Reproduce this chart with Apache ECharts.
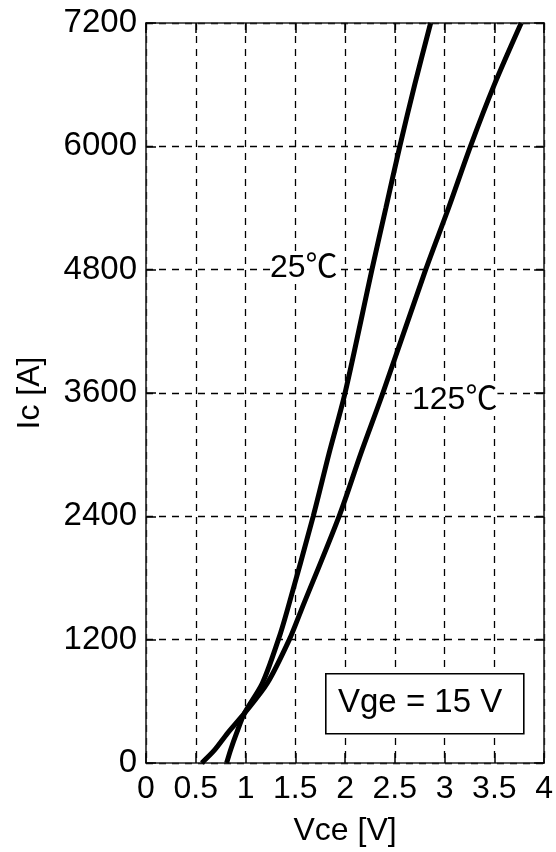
<!DOCTYPE html>
<html>
<head>
<meta charset="utf-8">
<script src="https://cdn.jsdelivr.net/npm/echarts@6/dist/echarts.min.js"></script>
<style>
html,body{margin:0;padding:0;background:#fff;}
#c{width:556px;height:852px;}
</style>
</head>
<body>
<div id="c"></div>
<script>
// Data
var xTicks = [0, 0.5, 1, 1.5, 2, 2.5, 3, 3.5, 4];
var yTicks = [0, 1200, 2400, 3600, 4800, 6000, 7200];
var vce25 = [0.81, 0.85, 0.91, 0.99, 1.17, 1.33, 1.42, 1.68, 1.84, 2.00, 2.27, 2.41, 2.55, 2.70, 2.86];
var ic25  = [0, 127, 290, 485, 778, 1200, 1488, 2400, 3015, 3600, 4800, 5400, 6000, 6600, 7200];
var vce125 = [0.56, 0.69, 0.82, 0.99, 1.22, 1.44, 1.56, 1.94, 2.16, 2.38, 2.81, 3.04, 3.26, 3.50, 3.77];
var ic125  = [0, 127, 290, 485, 778, 1200, 1488, 2400, 3015, 3600, 4800, 5400, 6000, 6600, 7200];
var labels = ['25℃', '125℃'];
var noteText = 'Vge = 15 V';

function pairs(xs, ys){ return xs.map(function(x,i){ return [x, ys[i]]; }); }

var font = "'Liberation Sans', Arial, 'Noto Sans CJK SC', sans-serif";
var chart = echarts.init(document.getElementById('c'));
var grid = {left:146, right:11, top:23, bottom:89};
var dash = {color:'#000', width:1.3, type:[7,6]};
function xAxis(show){
  return {type:'value', min:0, max:4, interval:0.5, position: show ? 'bottom':'top',
    name: show ? 'Vce [V]' : '', nameLocation:'middle', nameGap:52,
    nameTextStyle:{color:'#000', fontSize:32, fontFamily:font},
    axisLine:{show:true, onZero:false, lineStyle:{color:'#222', width:1.6}},
    axisTick:{show:true, inside:true, length:10, lineStyle:{color:'#000', width:1.5}},
    axisLabel:{show:show, color:'#000', fontSize:32, fontFamily:font, margin:10,
      formatter:function(v){ return String(v); }},
    splitLine:{show:show, lineStyle:dash}};
}
function yAxis(show){
  return {type:'value', min:0, max:7200, interval:1200, position: show ? 'left':'right',
    name: show ? 'Ic [A]' : '', nameLocation:'middle', nameGap:100, nameRotate:90,
    nameTextStyle:{color:'#000', fontSize:32, fontFamily:font},
    axisLine:{show:true, onZero:false, lineStyle:{color:'#222', width:1.6}},
    axisTick:{show:true, inside:true, length:10, lineStyle:{color:'#000', width:1.5}},
    axisLabel:{show:show, color:'#000', fontSize:33, fontFamily:font, margin:9,
      formatter:function(v){ return String(v); }},
    splitLine:{show:show, lineStyle:dash}};
}
chart.setOption({
  animation:false,
  backgroundColor:'#fff',
  grid:grid,
  xAxis:[xAxis(true), xAxis(false)],
  yAxis:[yAxis(true), yAxis(false)],
  series:[
    {type:'line', data:pairs(vce25, ic25), smooth:0.3, showSymbol:false, clip:true,
      lineStyle:{color:'#000', width:5}, z:5},
    {type:'line', data:pairs(vce125, ic125), smooth:0.3, showSymbol:false, clip:true,
      lineStyle:{color:'#000', width:5}, z:5}
  ],
  graphic:[
    {type:'text', left:270, top:252, z:10,
      style:{text:labels[0], fontSize:32, fontFamily:font, fill:'#000', backgroundColor:'#fff'}},
    {type:'text', left:412, top:384, z:10,
      style:{text:labels[1], fontSize:32, fontFamily:font, fill:'#000', backgroundColor:'#fff'}},
    {type:'rect', left:325, top:673, z:10,
      shape:{width:198, height:60}, style:{fill:'#fff', stroke:'#000', lineWidth:1.6}},
    {type:'text', left:338, top:686, z:11,
      style:{text:noteText, fontSize:33, fontFamily:font, fill:'#000'}}
  ]
});
</script>
</body>
</html>
